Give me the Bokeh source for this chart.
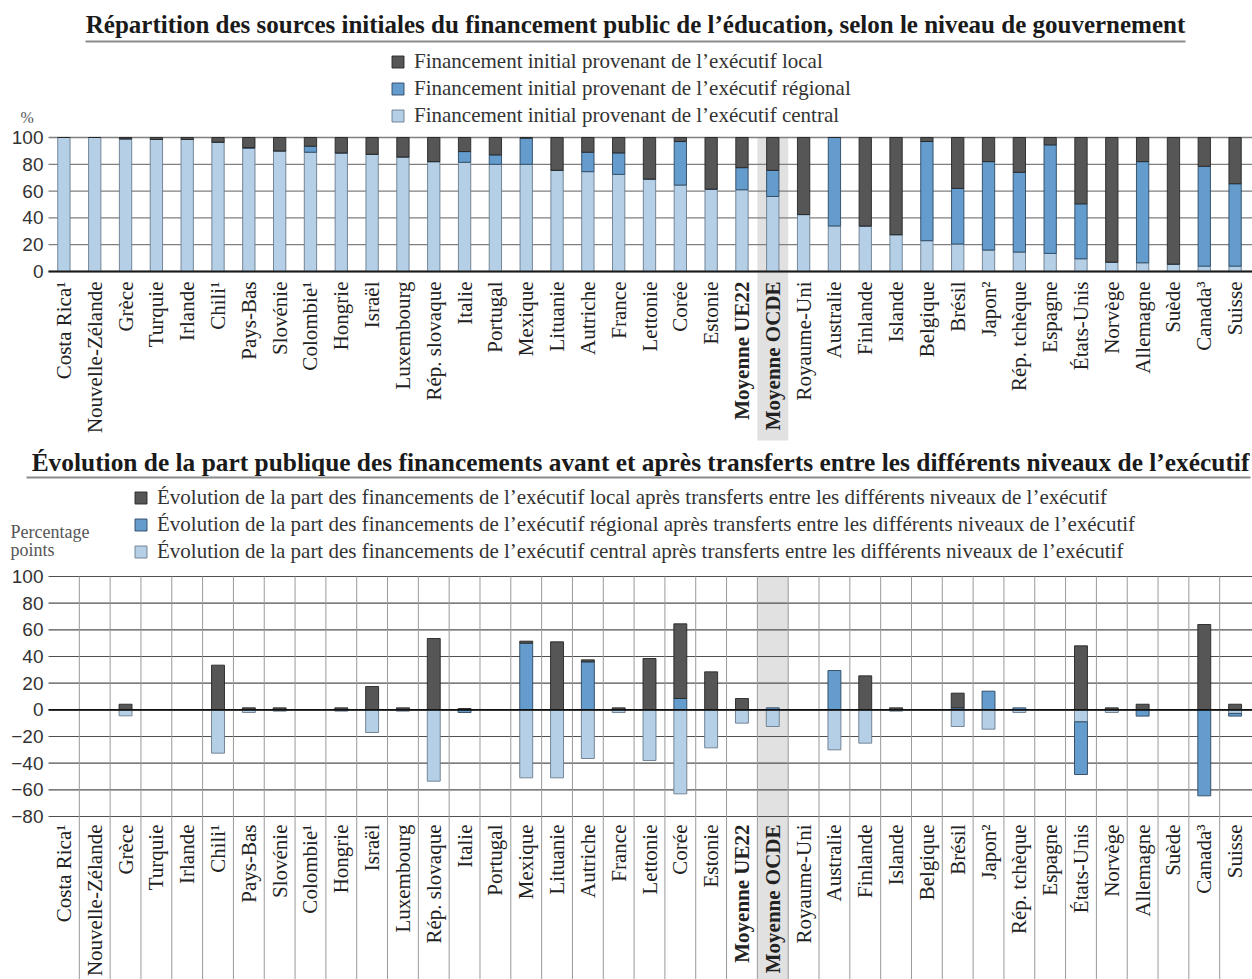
import numpy as np
from math import pi
from bokeh.plotting import figure
from bokeh.models import (ColumnDataSource, Range1d, FixedTicker, Label, Legend, LegendItem,
                          LinearAxis)
from bokeh.layouts import column
from bokeh.embed import file_html
from bokeh.resources import INLINE

# ---------------- data ----------------
countries = ["Costa Rica¹", "Nouvelle-Zélande", "Grèce", "Turquie", "Irlande", "Chili¹", "Pays-Bas",
             "Slovénie", "Colombie¹", "Hongrie", "Israël", "Luxembourg", "Rép. slovaque", "Italie",
             "Portugal", "Mexique", "Lituanie", "Autriche", "France", "Lettonie", "Corée", "Estonie",
             "Moyenne UE22", "Moyenne OCDE", "Royaume-Uni", "Australie", "Finlande", "Islande",
             "Belgique", "Brésil", "Japon²", "Rép. tchèque", "Espagne", "États-Unis", "Norvège",
             "Allemagne", "Suède", "Canada³", "Suisse"]
bold_countries = ["Moyenne UE22", "Moyenne OCDE"]
highlight = "Moyenne OCDE"

# initial sources of public funding (%)
init_central = [100, 100, 99, 98.5, 98.5, 96.5, 92, 90, 89, 88.5, 87.5, 85.5, 82, 81.5, 80, 80, 75.5,
                74.5, 72.5, 69, 64.5, 61.5, 61, 56, 42.5, 34, 34, 27.5, 23, 20.5, 16, 14.5, 13.5,
                9.5, 7, 6.5, 5.5, 4, 4]
init_regional = [0, 0, 0, 0, 0, 0, 0.5, 0, 4.5, 0, 0, 0, 0, 8, 7, 19.5, 0, 14.5, 16, 0, 32.5, 0,
                 16.5, 19.5, 0, 66, 0, 0, 74, 41.5, 66, 59.5, 81, 41, 0, 75.5, 0, 74.5, 61.5]
init_local = [0, 0, 1, 1.5, 1.5, 3.5, 7.5, 10, 6.5, 11.5, 12.5, 14.5, 18, 10.5, 13, 0.5, 24.5, 11,
              11.5, 31, 3, 38.5, 22.5, 24.5, 57.5, 0, 66, 72.5, 3, 38, 18, 26, 5.5, 49.5, 93, 18,
              94.5, 21.5, 34.5]

# change in shares after transfers (percentage points)
chg_local = [0, 0, 4.2, 0, 0, 33.5, 1.5, 1.5, 0, 1.5, 17.5, 1.5, 53.5, 1, 0, 1.5, 51, 1.5, 1.5,
             38.5, 56, 28.5, 8.5, 0, 0, 0, 25.5, 1.5, 0, 11, 0, 0, 0, 48, 1.5, 4.2, 0, 64, 4.2]
chg_regional = [0, 0, 0, 0, 0, 0, 0, 0, 0, 0, 0, 0, 0, -2, 0, 50, 0, 36, 0, 0, 8.5, 0, 0, 1.5, 0,
                29.5, 0, 0, 0, 1.5, 14, 1.5, 0, -39.5, 0, -4.7, 0, -64.5, -2]
chg_central = [0, 0, -4.5, 0, 0, -32.5, -2, -1, 0, -1, -17, -1, -53.5, 0, 0, -51, -51, -36.5, -2,
               -38, -63, -28.5, -10, -12.5, 0, -30, -25, -1, 0, -12.5, -14.5, -2, 0, -9, -2, 0, 0,
               0, -2.7]

title_top = "Répartition des sources initiales du financement public de l’éducation, selon le niveau de gouvernement"
title_bottom = "Évolution de la part publique des financements avant et après transferts entre les différents niveaux de l’exécutif"
legend_top = ["Financement initial provenant de l’exécutif local",
              "Financement initial provenant de l’exécutif régional",
              "Financement initial provenant de l’exécutif central"]
legend_bottom = ["Évolution de la part des financements de l’exécutif local après transferts entre les différents niveaux de l’exécutif",
                 "Évolution de la part des financements de l’exécutif régional après transferts entre les différents niveaux de l’exécutif",
                 "Évolution de la part des financements de l’exécutif central après transferts entre les différents niveaux de l’exécutif"]
unit_top = "%"
unit_bottom = ["Percentage", "points"]
yticks_top = [0, 20, 40, 60, 80, 100]
yticks_bottom = [-80, -60, -40, -20, 0, 20, 40, 60, 80, 100]

# ---------------- style / layout ----------------
COL_LOCAL, COL_REG, COL_CEN = "#565656", "#639ccd", "#b4cfe6"
LN_LOCAL, LN_REG, LN_CEN = "#262626", "#2c4660", "#6a7c8c"
SERIF, SANS = "Liberation Serif", "Liberation Sans"

W = 1252
PLOT_L, PLOT_R = 48, 1250          # page x of first / last category edge
N = len(countries)
PXC = (PLOT_R - PLOT_L) / N
xc = [i + 0.5 for i in range(N)]
X_LO = -PLOT_L / PXC
X_HI = N + (W - PLOT_R) / PXC


def xd(px):  # page x -> data x
    return (px - PLOT_L) / PXC


def make_fig(height, ylo, yhi, ticks, grid_color, grid_width):
    p = figure(width=W, height=height, x_range=Range1d(X_LO, X_HI), y_range=Range1d(ylo, yhi),
               output_backend="svg", toolbar_location=None, x_axis_location=None,
               y_axis_location=None,
               min_border_left=0, min_border_right=0, min_border_top=0, min_border_bottom=0)
    p.outline_line_color = None
    p.xgrid.visible = False
    p.ygrid.visible = False
    ax = LinearAxis(ticker=FixedTicker(ticks=ticks), fixed_location=0)
    ax.axis_line_color = None
    ax.major_tick_line_color = None
    ax.minor_tick_line_color = None
    ax.major_tick_out = 0
    ax.major_tick_in = 0
    ax.major_label_standoff = 5
    ax.major_label_text_font = SANS
    ax.major_label_text_font_size = "19px"
    ax.major_label_text_color = "#333333"
    p.add_layout(ax, "left")
    # horizontal grid lines at tick values, across the plotting area only
    p.segment(x0=[0] * len(ticks), y0=ticks, x1=[X_HI] * len(ticks), y1=ticks,
              line_color=grid_color, line_width=grid_width, level="underlay")
    return p


def add_labels(p, y):
    for i, c in enumerate(countries):
        p.add_layout(Label(x=xc[i], y=y, text=c, angle=pi / 2, text_align="right",
                           text_baseline="middle", text_font=SERIF, text_font_size="21px",
                           text_color="#222222",
                           text_font_style="bold" if c in bold_countries else "normal"))


def add_legend(p, items, vx, vy):
    lg = Legend(items=items, location=(vx, vy), orientation="vertical", padding=0, margin=0,
                spacing=2, glyph_width=15, glyph_height=15, label_standoff=9, label_height=24,
                border_line_color=None, background_fill_alpha=0,
                label_text_font=SERIF, label_text_font_size="21px", label_text_color="#333333")
    p.add_layout(lg)


hi = countries.index(highlight)

# ================= TOP CHART =================
H1 = 446
S1 = 1.34           # px per unit
Z1 = 271            # page y of value 0


def yd1(py):
    return (Z1 - py) / S1


p1 = make_fig(H1, yd1(H1), yd1(0), yticks_top, "#7f7f7f", 1.3)

p1.quad(left=[hi], right=[hi + 1], bottom=[yd1(440)], top=[100], fill_color="#e1e1e1",
        line_color=None, level="image")

src1 = ColumnDataSource(dict(x=xc, central=init_central, regional=init_regional, local=init_local))
rs1 = p1.vbar_stack(["central", "regional", "local"], x="x", width=0.4, source=src1,
                    fill_color=[COL_CEN, COL_REG, COL_LOCAL],
                    line_color=[LN_CEN, LN_REG, LN_LOCAL], line_width=0.9)
p1.segment(x0=[0], y0=[0], x1=[X_HI], y1=[0], line_color="#1a1a1a", line_width=1.8)

p1.add_layout(Label(x=xd(635), y=yd1(24), text=title_top, text_align="center",
                    text_baseline="alphabetic", text_font=SERIF, text_font_size="25px",
                    text_font_style="bold", text_color="#1a1a1a"))
p1.segment(x0=[xd(85)], y0=[yd1(41)], x1=[xd(1185)], y1=[yd1(41)], line_color="#8a8a8a",
           line_width=2)
p1.add_layout(Label(x=xd(20), y=yd1(117), text=unit_top, text_align="left",
                    text_baseline="middle", text_font=SERIF, text_font_size="16px",
                    text_color="#555555"))
add_legend(p1, [LegendItem(label=legend_top[0], renderers=[rs1[2]]),
                LegendItem(label=legend_top[1], renderers=[rs1[1]]),
                LegendItem(label=legend_top[2], renderers=[rs1[0]])],
           390, H1 - 128)
add_labels(p1, yd1(281))

# ================= BOTTOM CHART =================
H2 = 979 - H1
TOP2 = H1
S2 = 240 / 180
Z2 = 576 + 100 * S2


def yd2(py):
    return (Z2 - py) / S2


p2 = make_fig(H2, yd2(TOP2 + H2), yd2(TOP2), yticks_bottom, "#505050", 1.2)

p2.quad(left=[hi], right=[hi + 1], bottom=[yd2(TOP2 + H2)], top=[100], fill_color="#e1e1e1",
        line_color=None, level="image")
bounds = list(range(1, N))
p2.segment(x0=bounds, y0=[100] * len(bounds), x1=bounds, y1=[yd2(TOP2 + H2)] * len(bounds),
           line_color="#9a9a9a", line_width=1, level="underlay")

# stack positives upward and negatives downward
series = [("central", chg_central, COL_CEN, LN_CEN),
          ("regional", chg_regional, COL_REG, LN_REG),
          ("local", chg_local, COL_LOCAL, LN_LOCAL)]
pos = np.zeros(N)
neg = np.zeros(N)
rend2 = {}
for name, vals, fc, lc in series:
    v = np.array(vals, dtype=float)
    bottom = np.where(v >= 0, pos, neg + v)
    top = np.where(v >= 0, pos + v, neg)
    pos = pos + np.clip(v, 0, None)
    neg = neg + np.clip(v, None, 0)
    keep = v != 0
    s = ColumnDataSource(dict(x=np.array(xc)[keep], bottom=bottom[keep], top=top[keep]))
    rend2[name] = p2.vbar(x="x", bottom="bottom", top="top", width=0.42, source=s,
                          fill_color=fc, line_color=lc, line_width=0.9)
p2.segment(x0=[0], y0=[0], x1=[X_HI], y1=[0], line_color="#111111", line_width=1.6)

p2.add_layout(Label(x=xd(640), y=yd2(461), text=title_bottom, text_align="center",
                    text_baseline="alphabetic", text_font=SERIF, text_font_size="25.4px",
                    text_font_style="bold", text_color="#1a1a1a"))
p2.segment(x0=[xd(26)], y0=[yd2(477)], x1=[xd(1250)], y1=[yd2(477)], line_color="#8a8a8a",
           line_width=2)
p2.add_layout(Label(x=xd(10), y=yd2(531), text=unit_bottom[0], text_align="left",
                    text_baseline="middle", text_font=SERIF, text_font_size="18px",
                    text_color="#555555"))
p2.add_layout(Label(x=xd(10), y=yd2(549), text=unit_bottom[1], text_align="left",
                    text_baseline="middle", text_font=SERIF, text_font_size="18px",
                    text_color="#555555"))
add_legend(p2, [LegendItem(label=legend_bottom[0], renderers=[rend2["local"]]),
                LegendItem(label=legend_bottom[1], renderers=[rend2["regional"]]),
                LegendItem(label=legend_bottom[2], renderers=[rend2["central"]])],
           133, 979 - 564)
add_labels(p2, yd2(824))

layout = column(p1, p2, spacing=0)
open("out.html", "w").write(file_html(layout, INLINE))
